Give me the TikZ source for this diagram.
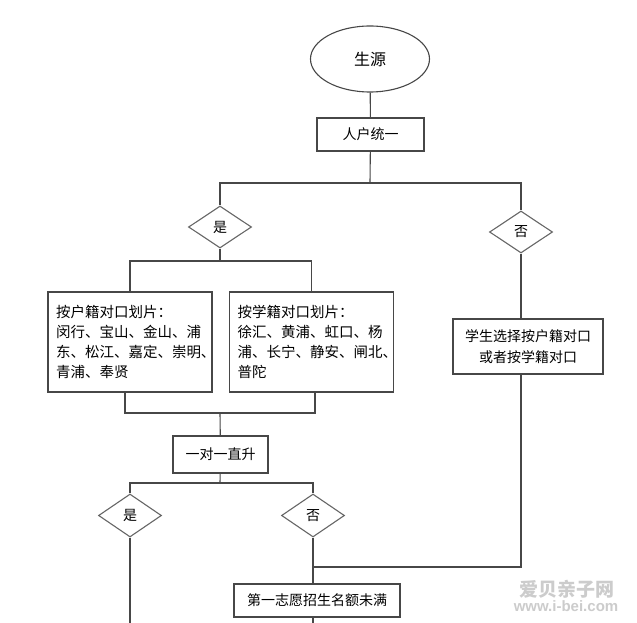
\documentclass[tikz,border=0pt]{standalone}
\usepackage{fontspec}
\setmainfont{Noto Sans CJK SC}
\newfontfamily\urlfont{Liberation Sans}
\usetikzlibrary{shapes.geometric}

\begin{document}
\begin{tikzpicture}[x=1pt, y=-1pt,
  box/.style={draw=black!72, rectangle, line width=1.1pt, inner sep=0pt, align=center, font=\fontsize{14}{21}\selectfont},
  area/.style={draw=black!72, rectangle, line width=1.1pt, inner sep=0pt, minimum width=164pt, minimum height=100pt, text width=148pt, align=left, font=\fontsize{14.5}{20}\selectfont},
  choice/.style={draw=black!60, diamond, line width=1.1pt, inner sep=0pt, minimum width=63pt, minimum height=42pt, font=\fontsize{14}{14}\selectfont},
  line/.style={black!72, line width=1.1pt},
  watermark/.style={text=black!20, inner sep=0pt}]
                \fill[white] (0,0) rectangle (637,623);
                \useasboundingbox (0,0) rectangle (637,623);
                % nodes
                \node[draw=black!72, ellipse, line width=1.1pt, minimum width=119pt, minimum height=66pt, font=\fontsize{16}{16}\selectfont] (source) at (370,59) {生源};
                \node[box, minimum width=107pt, minimum height=33pt] (unify) at (370.5,134.5) {人户统一};
                \node[choice] (yes1) at (220,227) {是};
                \node[choice] (no1) at (521,232) {否};
                \node[area] (hukou) at (130,342) {按户籍对口划片：\\闵行、宝山、金山、浦\\东、松江、嘉定、崇明、\\青浦、奉贤};
                \node[area] (xueji) at (311.5,342) {按学籍对口划片：\\徐汇、黄浦、虹口、杨\\浦、长宁、静安、闸北、\\普陀};
                \node[box, minimum width=150pt, minimum height=55pt] (choose) at (528,346.5) {学生选择按户籍对口\\或者按学籍对口};
                \node[box, minimum width=95pt, minimum height=37pt] (direct) at (220.5,454.5) {一对一直升};
                \node[choice, minimum height=43pt] (yes2) at (130,515.5) {是};
                \node[choice, minimum height=43pt] (no2) at (313,515.5) {否};
                \node[box, minimum width=166pt, minimum height=33pt] (first) at (317,600.5) {第一志愿招生名额未满};
                \node[watermark, font=\bfseries\fontsize{19}{19}\selectfont] (wmname) at (567,589.5) {爱贝亲子网};
                \node[watermark, font=\urlfont\bfseries\fontsize{15}{15}\selectfont] (wmurl) at (566,606.5) {www.i-bei.com};
                % junctions
                \coordinate (split) at (370,183);
                \coordinate (fork1) at (220,261);
                \coordinate (join1) at (220,413);
                \coordinate (fork2) at (220,483);
                \coordinate (merge) at (313,567);
                \coordinate (out1) at (313,623);
                \coordinate (out2) at (130,623);
                % edges
                \draw [line] (source) -- (unify);
                \draw [line] (unify) -- (split);
                \draw [line] (yes1) |- (split) -| (no1);
                \draw [line] (yes1) -- (fork1);
                \draw [line] (hukou) |- (fork1) -| (xueji);
                \draw [line] ([xshift=-5pt]hukou.south) |- (join1) -| ([xshift=3.5pt]xueji.south);
                \draw [line] (join1) -- (direct);
                \draw [line] (direct) -- (fork2);
                \draw [line] (yes2) |- (fork2) -| (no2);
                \draw [line] (no1) -- (no1 |- choose.north);
                \draw [line] (no1 |- choose.south) |- (merge);
                \draw [line] (no2) -- (no2 |- first.north);
                \draw [line] (no2 |- first.south) -- (out1);
                \draw [line] (yes2) -- (out2);
            \end{tikzpicture}
\end{document}
